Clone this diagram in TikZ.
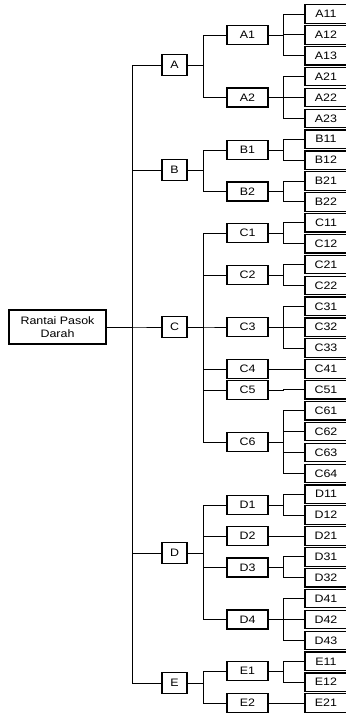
\documentclass[tikz,border=0pt]{standalone}
\usepackage{fontspec}
\setmainfont{Liberation Sans}[FakeStretch=1.15]

\begin{document}
\begin{tikzpicture}[x=1pt,y=-1pt,font=\fontsize{10.8}{12.5}\selectfont,line width=0.9pt,box/.style={draw,line width=1.2pt,inner sep=0pt,align=center},root/.style={box,minimum width=97pt,minimum height=34pt},main/.style={box,minimum width=25pt,minimum height=21pt},sub/.style={box,minimum width=41pt,minimum height=19pt},leaf/.style={box,minimum width=42pt,minimum height=18.5pt}]
\useasboundingbox (0,0) rectangle (345,714);
\node[root] (rantai) at (57.5,327){Rantai Pasok\\Darah};
\node[main] (A) at (174.5,65){A};
\node[main] (B) at (174.5,170){B};
\node[main] (C) at (174.5,327){C};
\node[main] (D) at (174.5,553){D};
\node[main] (E) at (174.5,683){E};
\node[sub] (A1) at (247.5,35){A1};
\node[sub] (A2) at (247.5,97.5){A2};
\node[sub] (B1) at (247.5,150){B1};
\node[sub] (B2) at (247.5,191.5){B2};
\node[sub] (C1) at (247.5,233){C1};
\node[sub] (C2) at (247.5,275){C2};
\node[sub] (C3) at (247.5,327){C3};
\node[sub] (C4) at (247.5,369){C4};
\node[sub] (C5) at (247.5,390){C5};
\node[sub] (C6) at (247.5,442){C6};
\node[sub] (D1) at (247.5,505){D1};
\node[sub] (D2) at (247.5,536){D2};
\node[sub] (D3) at (247.5,567.5){D3};
\node[sub] (D4) at (247.5,619.5){D4};
\node[sub] (E1) at (247.5,671){E1};
\node[sub] (E2) at (247.5,703){E2};
% leaves, one per row
\foreach \n [count=\i from 0] in {A11,A12,A13,A21,A22,A23,B11,B12,B21,B22,C11,C12,C21,C22,C31,C32,C33,C41,C51,C61,C62,C63,C64,D11,D12,D21,D31,D32,D41,D42,D43,E11,E12,E21}
  \node[leaf] (\n) at (326,{14+20.88*\i}){\n};
% connectors
\foreach \c in {A,B,C,D,E}
  \draw (rantai.east) -- ++(26,0) |- (\c.west);
\foreach \p/\c in {A/A1,A/A2,B/B1,B/B2,C/C1,C/C2,C/C3,C/C4,C/C5,C/C6,D/D1,D/D2,D/D3,D/D4,E/E1,E/E2}
  \draw (\p.east) -- ++(16,0) |- (\c.west);
\foreach \p/\c in {A1/A11,A1/A12,A1/A13,A2/A21,A2/A22,A2/A23,B1/B11,B1/B12,B2/B21,B2/B22,C1/C11,C1/C12,C2/C21,C2/C22,C3/C31,C3/C32,C3/C33,C4/C41,C5/C51,C6/C61,C6/C62,C6/C63,C6/C64,D1/D11,D1/D12,D2/D21,D3/D31,D3/D32,D4/D41,D4/D42,D4/D43,E1/E11,E1/E12,E2/E21}
  \draw (\p.east) -- ++(15,0) |- (\c.west);
\end{tikzpicture}
\end{document}
